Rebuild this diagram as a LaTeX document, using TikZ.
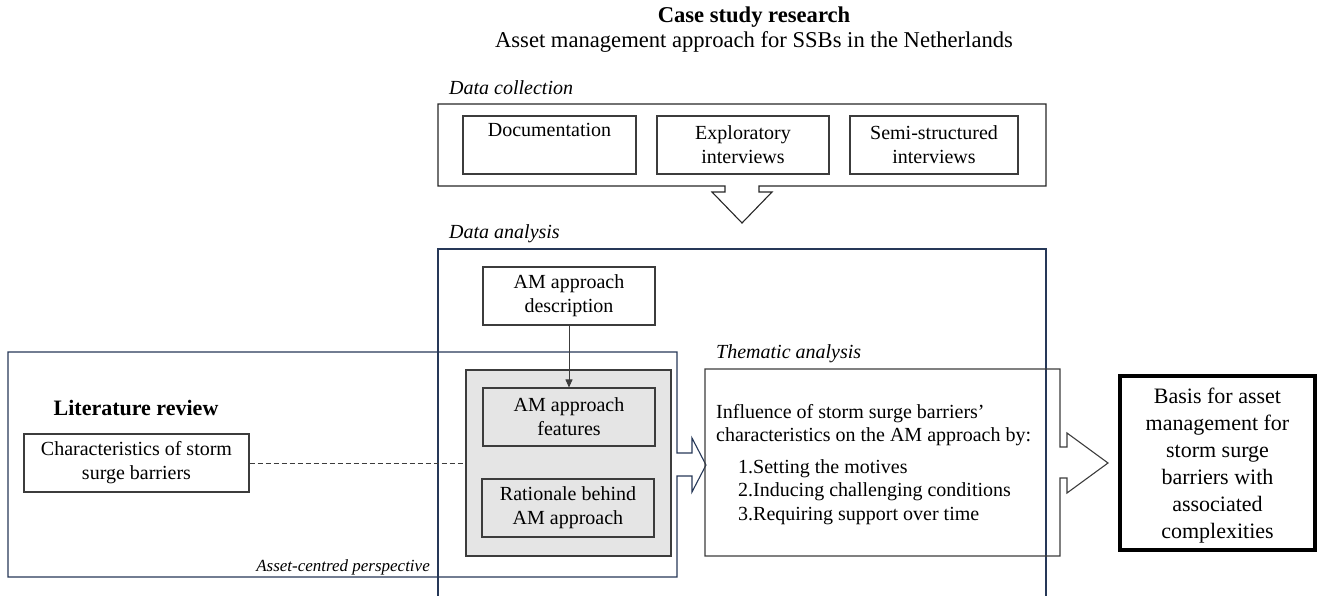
\documentclass[tikz,border=0pt]{standalone}
\usepackage{fontspec}
\setmainfont{Liberation Serif}
\usetikzlibrary{arrows.meta}

\definecolor{frameblue}{RGB}{38,56,88}
\definecolor{boxline}{RGB}{60,60,60}

\tikzset{
  box/.style={draw=boxline, line width=1.1pt, align=center, inner sep=0pt,
    minimum width=172pt, minimum height=58pt, font=\fontsize{20}{24}\selectfont},
  tag/.style={anchor=west, inner sep=0pt, font=\fontsize{20}{24}\selectfont\itshape},
  frame/.style={line width=1.1pt, line join=miter},
}

\begin{document}
\begin{tikzpicture}[x=1pt,y=-1pt]
  \useasboundingbox (0,0) rectangle (1317,596);

  % titel
  \node[font=\fontsize{22.6}{26}\selectfont\bfseries] (title) at (754,17) {Case study research};
  \node[font=\fontsize{22.6}{26}\selectfont] (subtitle) at (754,42) {Asset management approach for SSBs in the Netherlands};

  % data collection met pijl naar beneden
  \node[tag] (dclabel) at (449,88) {Data collection};
  \draw[frame, black!85] (725,186) -- (438,186) -- (438,104) -- (1046,104) -- (1046,186)
    -- (759,186) -- (759,192) -- (772,192) -- (742,223) -- (712,192) -- (725,192) -- cycle;
  \node[box, minimum width=173pt] (doc) at (549.5,145) {Documentation\\\strut};
  \node[box] (expl) at (743,145) {Exploratory\\interviews};
  \node[box, minimum width=168pt] (semi) at (934,145) {Semi-structured\\interviews};

  % data analysis
  \node[tag] (dalabel) at (449,234) {Data analysis};
  \draw[frame, frameblue] (438,600) -- (438,249) -- (1046,249) -- (1046,600);
  \node[box] (desc) at (569,296) {AM approach\\description};

  % literature review met pijl naar rechts
  \draw[frame, frameblue] (677,453) -- (677,352) -- (8,352) -- (8,577) -- (677,577) -- (677,476)
    -- (692,476) -- (692,492) -- (706,465) -- (692,438) -- (692,453) -- cycle;
  \node[font=\fontsize{22}{26}\selectfont\bfseries] (lrlabel) at (136,408) {Literature review};
  \node[box, minimum width=225pt] (charac) at (136.5,463) {Characteristics of storm\\surge barriers};
  \node[anchor=east, inner sep=0pt, font=\fontsize{17}{20}\selectfont\itshape] (perspective) at (430,567) {Asset-centred perspective};

  % grijze blok
  \node[draw=boxline, fill=gray!20, line width=1.1pt, minimum width=205pt, minimum height=186pt] (greybox) at (568.5,463) {};
  \node[box] (feat) at (569,417) {AM approach\\features};
  \node[box] (rat) at (568,508) {Rationale behind\\AM approach};

  \draw[boxline, line width=0.9pt, -{Triangle[length=8pt,width=7pt]}] (desc) -- (feat);
  \draw[boxline, line width=0.9pt, dash pattern=on 5pt off 3pt] (charac) -- (greybox);

  % thematic analysis met pijl naar rechts
  \node[tag] (thlabel) at (716,354) {Thematic analysis};
  \draw[frame, boxline] (1060,447) -- (1060,369) -- (705,369) -- (705,556) -- (1060,556) -- (1060,478)
    -- (1067,478) -- (1067,493) -- (1108,463) -- (1067,433) -- (1067,447) -- cycle;
  \node[anchor=north west, inner sep=0pt, align=left, font=\fontsize{20}{23.5}\selectfont] (thtext) at (716,404)
    {Influence of storm surge barriers’\\
     characteristics on the AM approach by:\\[8pt]
     \hspace*{22pt}1.Setting the motives\\
     \hspace*{22pt}2.Inducing challenging conditions\\
     \hspace*{22pt}3.Requiring support over time};

  % resultaat
  \node[draw=black, line width=4pt, minimum width=195pt, minimum height=174pt, inner sep=0pt,
    label={[yshift=-3pt, align=center, font=\fontsize{22}{27}\selectfont]center:Basis for asset\\management for\\storm surge\\barriers with\\associated\\complexities}]
    (basis) at (1217.5,463) {};
\end{tikzpicture}
\end{document}
